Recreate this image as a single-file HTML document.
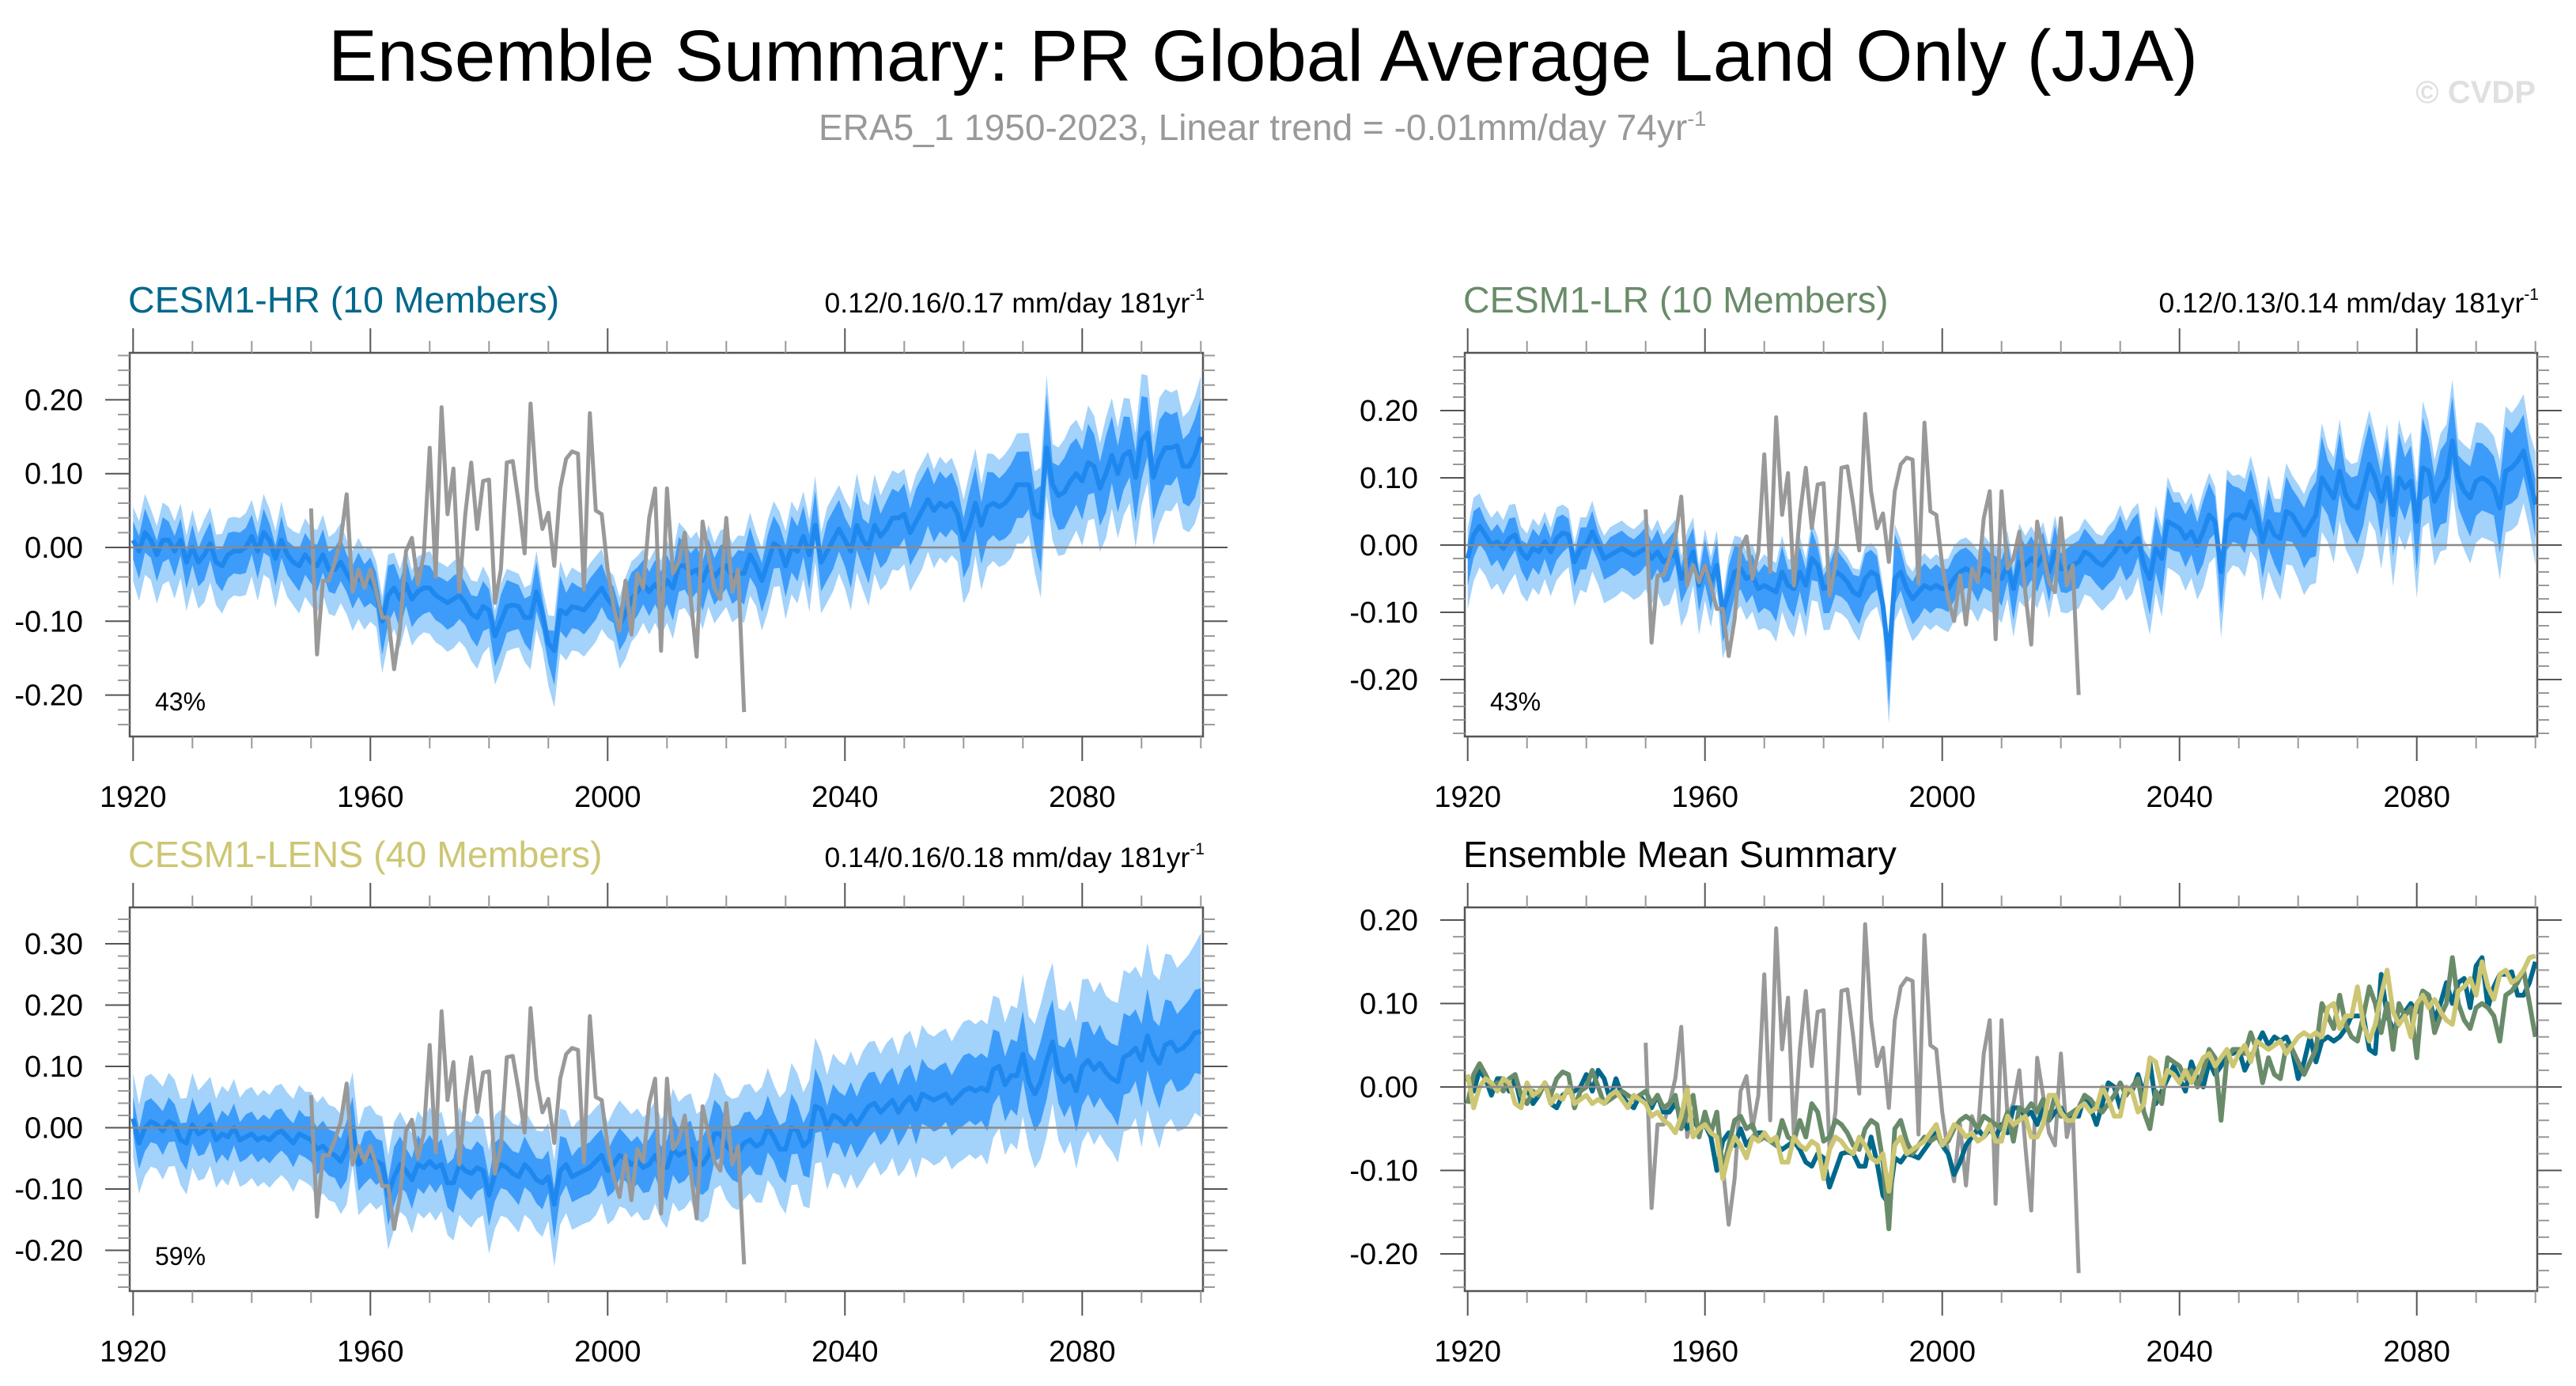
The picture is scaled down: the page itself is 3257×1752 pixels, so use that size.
<!DOCTYPE html>
<html><head><meta charset="utf-8">
<style>
html,body{margin:0;padding:0;background:#fff;}
svg{display:block;}
text{font-family:"Liberation Sans",Arial,sans-serif;}
</style></head>
<body>
<svg id="fig" width="3257" height="1752" viewBox="0 0 3257 1752" xmlns="http://www.w3.org/2000/svg">
<rect x="0" y="0" width="3257" height="1752" fill="#fff"/>
<text x="1597" y="102" font-size="92" text-anchor="middle" textLength="2364" lengthAdjust="spacingAndGlyphs" fill="#000">Ensemble Summary: PR Global Average Land Only (JJA)</text>
<text x="1035" y="177" font-size="46" fill="#999">ERA5_1 1950-2023, Linear trend = -0.01mm/day 74yr<tspan font-size="27" dy="-18">-1</tspan></text>
<text x="3206" y="130" font-size="40" font-weight="bold" text-anchor="end" fill="#e0e0e0">© CVDP</text>
<g id="panels"></g>
</svg>
<script>
// ---- data ----
const years = [];
for (let y = 1920; y <= 2100; y++) years.push(y);
const eraYears = [];
for (let y = 1950; y <= 2023; y++) eraYears.push(y);
const eraValues = [0.053,-0.145,-0.045,-0.045,-0.02,0.01,0.072,-0.06,-0.03,-0.055,
 -0.03,-0.06,-0.095,-0.095,-0.165,-0.11,-0.005,0.013,-0.05,-0.01,
 0.135,-0.04,0.19,0.045,0.107,-0.06,0.045,0.115,0.025,0.09,
 0.092,-0.075,-0.03,0.115,0.117,0.06,-0.008,0.195,0.08,0.025,
 0.047,-0.025,0.08,0.12,0.13,0.127,-0.057,0.182,0.05,0.045,
 -0.03,-0.08,-0.113,-0.045,-0.118,-0.035,-0.055,0.04,0.08,-0.14,
 0.08,-0.035,-0.02,0.02,-0.07,-0.148,0.035,-0.01,-0.055,-0.07,
 0.04,-0.06,-0.03,-0.223];
const hrMean = [0.01,-0.005,0.02,0.01,-0.01,0.01,0.01,-0.005,0.01,-0.02,
 0.0,-0.02,-0.01,0.005,-0.02,-0.025,-0.01,-0.005,-0.005,0.0,
 0.015,-0.005,0.02,0.01,-0.015,0.01,-0.01,-0.02,-0.025,-0.01,
 -0.02,-0.025,-0.01,-0.03,-0.03,-0.02,-0.035,-0.05,-0.04,-0.05,
 -0.045,-0.06,-0.1,-0.065,-0.055,-0.07,-0.05,-0.07,-0.06,-0.055,
 -0.055,-0.065,-0.07,-0.075,-0.07,-0.065,-0.075,-0.09,-0.095,-0.08,
 -0.085,-0.12,-0.1,-0.08,-0.078,-0.08,-0.095,-0.095,-0.06,-0.09,
 -0.13,-0.14,-0.085,-0.09,-0.08,-0.082,-0.085,-0.075,-0.065,-0.055,
 -0.07,-0.08,-0.105,-0.09,-0.07,-0.06,-0.05,-0.06,-0.05,-0.06,
 -0.045,-0.055,-0.025,-0.025,-0.035,-0.03,-0.045,-0.025,-0.04,-0.03,
 -0.025,-0.04,-0.035,-0.035,-0.01,-0.025,-0.045,-0.02,0.005,0.0,
 -0.025,0.0,-0.005,0.015,-0.01,0.03,-0.02,-0.005,0.01,0.025,
 0.01,-0.005,0.03,0.01,0.0,0.03,0.015,0.025,0.04,0.04,
 0.045,0.02,0.035,0.05,0.065,0.05,0.06,0.055,0.06,0.045,
 0.01,0.03,0.06,0.03,0.055,0.06,0.055,0.06,0.07,0.085,
 0.085,0.085,0.045,0.04,0.135,0.085,0.07,0.075,0.09,0.1,
 0.09,0.115,0.11,0.08,0.1,0.125,0.1,0.125,0.13,0.095,
 0.145,0.155,0.095,0.12,0.135,0.135,0.138,0.11,0.11,0.125,0.15];
const lrMean = [-0.02,0.015,0.028,0.015,0.0,0.005,-0.005,0.01,0.015,-0.01,
 -0.02,-0.005,-0.01,0.005,-0.01,0.01,0.018,0.015,-0.025,-0.005,
 0.0,0.02,0.0,-0.02,-0.015,-0.01,-0.005,-0.01,-0.015,-0.01,
 -0.005,-0.02,-0.01,-0.025,-0.02,-0.01,-0.05,-0.03,-0.01,-0.06,
 -0.03,-0.055,-0.03,-0.1,-0.07,-0.04,-0.035,-0.05,-0.045,-0.065,
 -0.06,-0.065,-0.07,-0.04,-0.06,-0.065,-0.04,-0.06,-0.02,-0.03,
 -0.065,-0.06,-0.04,-0.045,-0.055,-0.07,-0.075,-0.05,-0.04,-0.045,
 -0.09,-0.17,-0.05,-0.04,-0.065,-0.08,-0.07,-0.06,-0.065,-0.06,
 -0.065,-0.065,-0.05,-0.04,-0.035,-0.04,-0.05,-0.035,-0.04,-0.045,
 -0.05,-0.03,-0.065,-0.025,-0.03,-0.02,-0.03,-0.015,-0.04,-0.01,
 -0.035,-0.035,-0.03,-0.025,-0.01,-0.015,-0.025,-0.03,-0.02,-0.01,
 0.005,-0.01,0.0,0.01,-0.03,-0.05,-0.005,-0.02,0.035,0.03,
 0.025,0.01,0.02,0.0,0.02,0.045,0.035,-0.04,0.035,0.045,
 0.045,0.04,0.065,0.045,0.005,0.035,0.015,0.01,0.05,0.045,
 0.03,0.015,0.03,0.045,0.1,0.085,0.07,0.11,0.075,0.06,
 0.055,0.085,0.12,0.1,0.065,0.1,0.045,0.1,0.085,0.095,
 0.035,0.115,0.11,0.065,0.085,0.1,0.155,0.1,0.08,0.07,
 0.095,0.1,0.095,0.085,0.055,0.11,0.115,0.125,0.14,0.1,0.06];
const lensMean = [0.015,-0.025,0.0,0.01,0.005,-0.005,0.01,0.005,-0.02,-0.025,
 0.005,-0.01,-0.005,0.005,-0.02,-0.01,-0.015,0.0,-0.02,-0.015,
 -0.01,-0.02,-0.015,-0.02,-0.01,-0.005,-0.015,-0.025,-0.01,-0.015,
 -0.02,-0.035,-0.03,-0.04,-0.045,-0.055,-0.035,0.0,-0.06,-0.05,
 -0.045,-0.055,-0.06,-0.11,-0.08,-0.06,-0.07,-0.085,-0.06,-0.065,
 -0.055,-0.065,-0.06,-0.09,-0.09,-0.06,-0.07,-0.075,-0.065,-0.07,
 -0.11,-0.075,-0.06,-0.065,-0.075,-0.08,-0.06,-0.07,-0.085,-0.09,
 -0.08,-0.125,-0.07,-0.06,-0.08,-0.075,-0.07,-0.065,-0.055,-0.045,
 -0.07,-0.06,-0.045,-0.05,-0.06,-0.055,-0.065,-0.06,-0.045,-0.065,
 -0.065,-0.035,-0.045,-0.04,-0.035,-0.06,-0.06,-0.045,-0.01,-0.01,
 -0.03,-0.04,-0.04,-0.025,-0.02,-0.03,-0.025,0.0,-0.015,-0.035,
 -0.035,0.0,-0.005,-0.03,-0.02,0.035,0.03,0.0,0.02,0.015,
 0.005,0.02,0.005,0.02,0.035,0.04,0.025,0.035,0.045,0.025,
 0.04,0.05,0.03,0.055,0.05,0.045,0.05,0.055,0.04,0.05,
 0.06,0.065,0.06,0.065,0.06,0.095,0.1,0.07,0.085,0.085,
 0.12,0.075,0.055,0.075,0.11,0.14,0.09,0.075,0.085,0.06,
 0.1,0.11,0.095,0.105,0.09,0.08,0.075,0.115,0.12,0.13,
 0.11,0.15,0.12,0.105,0.135,0.14,0.125,0.13,0.14,0.155,0.157];
// ensemble spread by decade (1920s ... 2100)
const hrOuterLow = [0.06,0.06,0.06,0.06,0.06,0.065,0.06,0.06,0.055,0.06,0.06,0.065,0.07,0.075,0.08,0.08,0.08,0.085,0.09];
const hrOuterHigh = [0.045,0.045,0.045,0.05,0.045,0.05,0.045,0.05,0.045,0.05,0.05,0.055,0.06,0.06,0.065,0.07,0.07,0.075,0.075];
const hrInnerLow = [0.03,0.03,0.03,0.03,0.035,0.035,0.035,0.03,0.03,0.035,0.035,0.035,0.04,0.04,0.045,0.045,0.045,0.05,0.05];
const hrInnerHigh = [0.025,0.025,0.025,0.03,0.03,0.03,0.03,0.03,0.03,0.03,0.03,0.035,0.035,0.04,0.04,0.045,0.045,0.045,0.045];
const lrOuterLow = [0.065,0.06,0.065,0.065,0.06,0.065,0.06,0.06,0.06,0.06,0.065,0.07,0.075,0.08,0.085,0.09,0.09,0.09,0.09];
const lrOuterHigh = [0.045,0.04,0.04,0.045,0.045,0.045,0.04,0.045,0.045,0.045,0.045,0.05,0.055,0.06,0.065,0.07,0.075,0.08,0.09];
const lrInnerLow = [0.03,0.03,0.03,0.03,0.035,0.035,0.035,0.035,0.03,0.035,0.035,0.04,0.04,0.045,0.045,0.045,0.05,0.05,0.05];
const lrInnerHigh = [0.025,0.025,0.025,0.03,0.03,0.03,0.03,0.03,0.03,0.03,0.03,0.035,0.04,0.04,0.045,0.05,0.05,0.05,0.05];
const lensOuterLow = [0.075,0.075,0.075,0.08,0.08,0.085,0.085,0.085,0.085,0.09,0.09,0.095,0.1,0.105,0.11,0.115,0.12,0.13,0.14];
const lensOuterHigh = [0.075,0.075,0.075,0.08,0.08,0.085,0.085,0.085,0.085,0.09,0.09,0.095,0.1,0.105,0.11,0.12,0.13,0.14,0.16];
const lensInnerLow = [0.035,0.035,0.035,0.04,0.04,0.04,0.04,0.04,0.04,0.045,0.045,0.045,0.05,0.05,0.055,0.055,0.06,0.065,0.07];
const lensInnerHigh = [0.035,0.035,0.035,0.04,0.04,0.04,0.04,0.04,0.04,0.045,0.045,0.045,0.05,0.05,0.055,0.06,0.06,0.065,0.07];
const yTicksA = [0.20,0.10,0.00,-0.10,-0.20];
const yTicksLens = [0.30,0.20,0.10,0.00,-0.10,-0.20];
const xTickLabels = [1920,1960,2000,2040,2080];

// ---- drawing ----
const NS = "http://www.w3.org/2000/svg";
const root = document.getElementById("panels");
function mk(tag, attrs, parent) {
  const e = document.createElementNS(NS, tag);
  for (const k in attrs) e.setAttribute(k, attrs[k]);
  (parent || root).appendChild(e);
  return e;
}
function panel(cfg) {
  const g = mk("g", {});
  
  
  const L = cfg.left, R = cfg.right, T = cfg.top, B = T + 485;
  const x = yr => cfg.x1920 + (yr - 1920) * 7.5;
  const yv = v => cfg.zeroPx - v * cfg.pxPer;
  const vTop = (cfg.zeroPx - T) / cfg.pxPer, vBot = (cfg.zeroPx - B) / cfg.pxPer;
  const dec = i => Math.min(18, Math.floor(i / 10));
  const clip = "clip-" + cfg.name;
  const cp = mk("clipPath", {id: clip}, g);
  mk("rect", {x: L, y: T, width: R - L, height: B - T}, cp);
  const plot = mk("g", {"clip-path": "url(#" + clip + ")"}, g);
  
  
  function band(mean, lo, hi, color, nm) {
    let up = [], dn = [];
    for (let i = 0; i < years.length; i++) {
      up.push(x(years[i]).toFixed(1) + "," + yv(mean[i] + hi[dec(i)] + (mean[i] - (mean[i-1] ?? mean[i])) * 0.3).toFixed(1));
      dn.push(x(years[i]).toFixed(1) + "," + yv(mean[i] - lo[dec(i)] + (mean[i] - (mean[i+1] ?? mean[i])) * 0.3).toFixed(1));
    }
    const p = mk("polygon", {points: up.concat(dn.reverse()).join(" "), fill: color}, plot);
    
    
  }
  function line(xs, vals, color, w, nm) {
    const pts = vals.map((v, i) => x(xs[i]).toFixed(1) + "," + yv(v).toFixed(1)).join(" ");
    const p = mk("polyline", {points: pts, fill: "none", stroke: color, "stroke-width": w, "stroke-linejoin": "round"}, plot);
    
    
  }
  if (cfg.bands) {
    band(cfg.mean, cfg.bands[0], cfg.bands[1], "#a3d2fa", "ensemble-range-band");
    band(cfg.mean, cfg.bands[2], cfg.bands[3], "#3d9cfa", "ensemble-iqr-band");
  }
  const zl = mk("line", {x1: L, x2: R, y1: yv(0), y2: yv(0), stroke: "#8a8a8a", "stroke-width": 2.5}, g);
  
  
  if (cfg.bands) {
    line(years, cfg.mean, "#1f88ee", 6, "ensemble-mean-line");
    line(eraYears, eraValues, "#999999", 5, "era5-line");
  } else {
    line(eraYears, eraValues, "#999999", 5, "era5-line");
    line(years, hrMean, "#00688b", 6, "cesm1-hr-mean-line");
    line(years, lrMean, "#698b69", 6, "cesm1-lr-mean-line");
    line(years, lensMean, "#cdc673", 6, "cesm1-lens-mean-line");
  }
  const box = mk("rect", {x: L, y: T, width: R - L, height: B - T, fill: "none", stroke: "#555", "stroke-width": 2.5}, g);
  
  
  for (let yr = 1920; yr <= 2100; yr += 10) {
    const major = (yr - 1920) % 40 === 0 && yr < 2100;
    const len = major ? 31 : 15, c = major ? "#555" : "#999";
    mk("line", {x1: x(yr), x2: x(yr), y1: T, y2: T - len, stroke: c, "stroke-width": 2}, g);
    mk("line", {x1: x(yr), x2: x(yr), y1: B, y2: B + len, stroke: c, "stroke-width": 2}, g);
  }
  xTickLabels.forEach(yr => {
    const t = mk("text", {x: x(yr), y: B + 89, "font-size": 38, "text-anchor": "middle", fill: "#000"}, g);
    t.textContent = yr;
    
    
  });
  for (let k = Math.ceil(vBot / 0.02); k <= Math.floor(vTop / 0.02); k++) {
    const v = k * 0.02, py = yv(v);
    const major = k % 5 === 0, len = major ? 31 : 15, c = major ? "#555" : "#999";
    mk("line", {x1: L, x2: L - len, y1: py, y2: py, stroke: c, "stroke-width": 2}, g);
    mk("line", {x1: R, x2: R + len, y1: py, y2: py, stroke: c, "stroke-width": 2}, g);
  }
  cfg.yTicks.forEach(v => {
    const t = mk("text", {x: L - 59, y: yv(v) + 13, "font-size": 38, "text-anchor": "end", fill: "#000"}, g);
    t.textContent = v.toFixed(2);
    
    
  });
  const tt = mk("text", {x: L - 2, y: T - 51, "font-size": 46.5, fill: cfg.titleColor}, g);
  tt.textContent = cfg.title;
  
  
  if (cfg.trend) {
    const tr = mk("text", {x: R + 2, y: T - 51, "font-size": 35.5, "text-anchor": "end", fill: "#000"}, g);
    tr.innerHTML = cfg.trend + ' 181yr<tspan font-size="21" dy="-16">-1</tspan>';
    
    
  }
  if (cfg.pct) {
    const pc = mk("text", {x: L + 32, y: T + 452, "font-size": 32, fill: "#000"}, g);
    pc.textContent = cfg.pct;
    
    
  }
}
panel({name: "cesm1-hr-panel", left: 164, right: 1521, top: 446, x1920: 168.3, zeroPx: 692, pxPer: 933,
  yTicks: yTicksA, mean: hrMean, bands: [hrOuterLow, hrOuterHigh, hrInnerLow, hrInnerHigh],
  title: "CESM1-HR (10 Members)", titleColor: "#00688b", trend: "0.12/0.16/0.17 mm/day", pct: "43%"});
panel({name: "cesm1-lr-panel", left: 1852, right: 3208, top: 446, x1920: 1855.7, zeroPx: 689, pxPer: 850,
  yTicks: yTicksA, mean: lrMean, bands: [lrOuterLow, lrOuterHigh, lrInnerLow, lrInnerHigh],
  title: "CESM1-LR (10 Members)", titleColor: "#698b69", trend: "0.12/0.13/0.14 mm/day", pct: "43%"});
panel({name: "cesm1-lens-panel", left: 164, right: 1521, top: 1147, x1920: 168.3, zeroPx: 1425.5, pxPer: 775,
  yTicks: yTicksLens, mean: lensMean, bands: [lensOuterLow, lensOuterHigh, lensInnerLow, lensInnerHigh],
  title: "CESM1-LENS (40 Members)", titleColor: "#cdc673", trend: "0.14/0.16/0.18 mm/day", pct: "59%"});
panel({name: "ensemble-mean-summary-panel", left: 1852, right: 3208, top: 1147, x1920: 1855.7, zeroPx: 1374, pxPer: 1055,
  yTicks: yTicksA, title: "Ensemble Mean Summary", titleColor: "#000"});
</script>
</body></html>
